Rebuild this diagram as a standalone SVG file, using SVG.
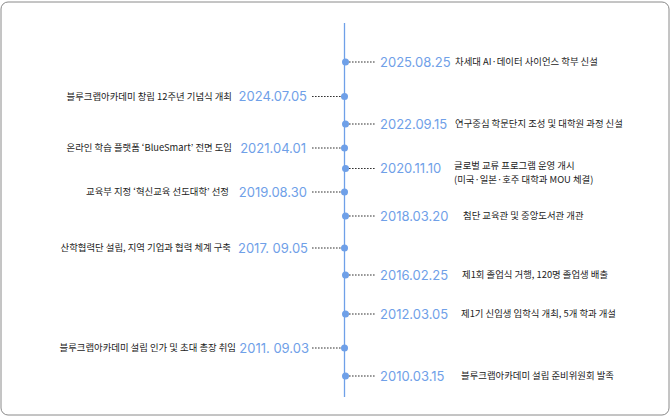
<svg xmlns="http://www.w3.org/2000/svg" width="671" height="417" viewBox="0 0 671 417">
  <style>
    .frame { fill: #ffffff; stroke: #8a8a8a; stroke-width: 1; }
    .axis { stroke: #6fa0e8; stroke-width: 1.3; }
    .dot { fill: #6fa0e8; }
    .conn { stroke: #333333; stroke-width: 1.2; stroke-dasharray: 1.6 1.4; fill: none; }
    .date { font-family: Inter, "Liberation Sans", sans-serif; font-size: 13px; font-weight: 400; fill: #6fa0e8; }
    .desc { font-family: "Noto Sans CJK KR", "Noto Sans", sans-serif; font-size: 9.4px; fill: #222222; }
    .l { text-anchor: end; }
  </style>
  <rect class="frame" x="1" y="2" width="668" height="413" rx="7"/>
  <line class="axis" x1="344.5" y1="23" x2="344.5" y2="397"/>

  <g id="connectors">
    <line class="conn" x1="349" y1="62" x2="376" y2="62"/>
    <line class="conn" x1="312" y1="96.5" x2="341" y2="96.5"/>
    <line class="conn" x1="349" y1="124" x2="376" y2="124"/>
    <line class="conn" x1="312" y1="148" x2="341" y2="148"/>
    <line class="conn" x1="349" y1="168.5" x2="376" y2="168.5"/>
    <line class="conn" x1="312" y1="192" x2="341" y2="192"/>
    <line class="conn" x1="349" y1="216" x2="376" y2="216"/>
    <line class="conn" x1="312" y1="248" x2="341" y2="248"/>
    <line class="conn" x1="349" y1="275" x2="376" y2="275"/>
    <line class="conn" x1="349" y1="314" x2="376" y2="314"/>
    <line class="conn" x1="312" y1="348" x2="341" y2="348"/>
    <line class="conn" x1="349" y1="376" x2="376" y2="376"/>
  </g>

  <g id="e2025">
    <circle class="dot" cx="345.5" cy="62" r="3.5"/>
    <text class="date" x="380" y="66.5">2025.08.25</text>
    <text class="desc" x="455" y="65.3">차세대 AI·데이터 사이언스 학부 신설</text>
  </g>
  <g id="e2024">
    <circle class="dot" cx="344.5" cy="96.5" r="3.5"/>
    <text class="date l" x="307" y="101">2024.07.05</text>
    <text class="desc l" x="232" y="99.8">블루크랩아카데미 창립 12주년 기념식 개최</text>
  </g>
  <g id="e2022">
    <circle class="dot" cx="345.5" cy="124" r="3.5"/>
    <text class="date" x="380" y="128.5">2022.09.15</text>
    <text class="desc" x="455" y="127.3">연구중심 학문단지 조성 및 대학원 과정 신설</text>
  </g>
  <g id="e2021">
    <circle class="dot" cx="344.5" cy="148" r="3.5"/>
    <text class="date l" x="306" y="152.5">2021.04.01</text>
    <text class="desc l" x="232" y="151.3">온라인 학습 플랫폼 ‘BlueSmart’ 전면 도입</text>
  </g>
  <g id="e2020">
    <circle class="dot" cx="345.5" cy="168.5" r="3.5"/>
    <text class="date" x="380" y="173">2020.11.10</text>
    <text class="desc" x="454" y="169.3">글로벌 교류 프로그램 운영 개시</text>
    <text class="desc" x="454" y="183.3">(미국·일본·호주 대학과 MOU 체결)</text>
  </g>
  <g id="e2019">
    <circle class="dot" cx="344.5" cy="192" r="3.5"/>
    <text class="date l" x="307" y="196.5">2019.08.30</text>
    <text class="desc l" x="229" y="195.3">교육부 지정 ‘혁신교육 선도대학’ 선정</text>
  </g>
  <g id="e2018">
    <circle class="dot" cx="345.5" cy="216" r="3.5"/>
    <text class="date" x="380" y="220.5">2018.03.20</text>
    <text class="desc" x="463" y="219.3">첨단 교육관 및 중앙도서관 개관</text>
  </g>
  <g id="e2017">
    <circle class="dot" cx="344.5" cy="248" r="3.5"/>
    <text class="date l" x="308" y="252.5">2017. 09.05</text>
    <text class="desc l" x="231" y="251.3">산학협력단 설립, 지역 기업과 협력 체계 구축</text>
  </g>
  <g id="e2016">
    <circle class="dot" cx="345.5" cy="275" r="3.5"/>
    <text class="date" x="380" y="279.5">2016.02.25</text>
    <text class="desc" x="462" y="278.3">제1회 졸업식 거행, 120명 졸업생 배출</text>
  </g>
  <g id="e2012">
    <circle class="dot" cx="345.5" cy="314" r="3.5"/>
    <text class="date" x="380" y="318.5">2012.03.05</text>
    <text class="desc" x="461" y="317.3">제1기 신입생 입학식 개최, 5개 학과 개설</text>
  </g>
  <g id="e2011">
    <circle class="dot" cx="344.5" cy="348" r="3.5"/>
    <text class="date l" x="309" y="352.5">2011. 09.03</text>
    <text class="desc l" x="236" y="351.3">블루크랩아카데미 설립 인가 및 초대 총장 취임</text>
  </g>
  <g id="e2010">
    <circle class="dot" cx="345.5" cy="376" r="3.5"/>
    <text class="date" x="380" y="380.5">2010.03.15</text>
    <text class="desc" x="461" y="379.3">블루크랩아카데미 설립 준비위원회 발족</text>
  </g>
</svg>
